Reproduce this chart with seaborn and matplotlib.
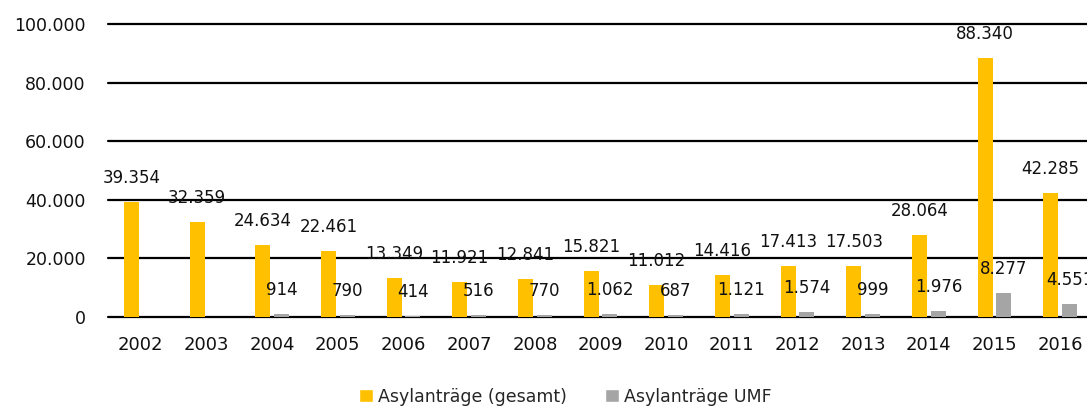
import numpy as np
import pandas as pd
import matplotlib
matplotlib.use("Agg")
import matplotlib.pyplot as plt
from matplotlib.patches import Patch
import seaborn as sns

# Data
years = ["2002", "2003", "2004", "2005", "2006", "2007", "2008", "2009",
         "2010", "2011", "2012", "2013", "2014", "2015", "2016"]
antraege_gesamt = [39354, 32359, 24634, 22461, 13349, 11921, 12841, 15821,
                   11012, 14416, 17413, 17503, 28064, 88340, 42285]
antraege_umf = [np.nan, np.nan, 914, 790, 414, 516, 770, 1062,
                687, 1121, 1574, 999, 1976, 8277, 4551]
series_names = ["Asylanträge (gesamt)", "Asylanträge UMF"]
colors = ["#FFC000", "#A5A5A5"]
y_ticks = [0, 20000, 40000, 60000, 80000, 100000]


def de_format(v):
    return f"{int(v):,}".replace(",", ".")


df = pd.DataFrame({
    "Jahr": years * 2,
    "Wert": antraege_gesamt + antraege_umf,
    "Serie": [series_names[0]] * len(years) + [series_names[1]] * len(years),
})

sns.set_style("white")
plt.rcParams["font.family"] = ["DejaVu Sans"]

fig = plt.figure(figsize=(10.87, 4.07), dpi=100)
ax = fig.add_axes([108 / 1087, 90 / 407, 985 / 1087, 293 / 407])

sns.barplot(data=df, x="Jahr", y="Wert", hue="Serie", palette=colors,
            width=0.578, gap=0.21, ax=ax, legend=False, saturation=1,
            linewidth=0)

ax.set_xlim(-0.5, 14.5)
ax.set_ylim(0, 100000)
ax.set_yticks(y_ticks)
ax.set_yticklabels([de_format(t) for t in y_ticks])
ax.yaxis.grid(True, color="black", linewidth=1.6)
for gl in ax.get_ygridlines():
    gl.set_clip_on(False)
ax.set_axisbelow(True)
for s in ax.spines.values():
    s.set_visible(False)
ax.tick_params(axis="y", length=0, pad=16, labelsize=12.5, colors="#111111")
ax.tick_params(axis="x", length=0, pad=14, labelsize=13, colors="#111111")
ax.set_xlabel("")
ax.set_ylabel("")

# value labels above bars
for container in ax.containers:
    for bar in container:
        h = bar.get_height()
        if np.isnan(h):
            continue
        ax.annotate(de_format(h), (bar.get_x() + bar.get_width() / 2, h),
                    xytext=(0, 24), textcoords="offset pixels",
                    ha="center", va="center", fontsize=12, color="#111111",
                    annotation_clip=False)

handles = [Patch(facecolor=c, label=n) for c, n in zip(colors, series_names)]
fig.legend(handles=handles, loc="center", bbox_to_anchor=(0.52, 0.025),
           ncol=2, frameon=False, fontsize=12.5, handlelength=0.8,
           handleheight=0.8, handletextpad=0.3, columnspacing=2.2)

fig.savefig("out.png", dpi=100)
